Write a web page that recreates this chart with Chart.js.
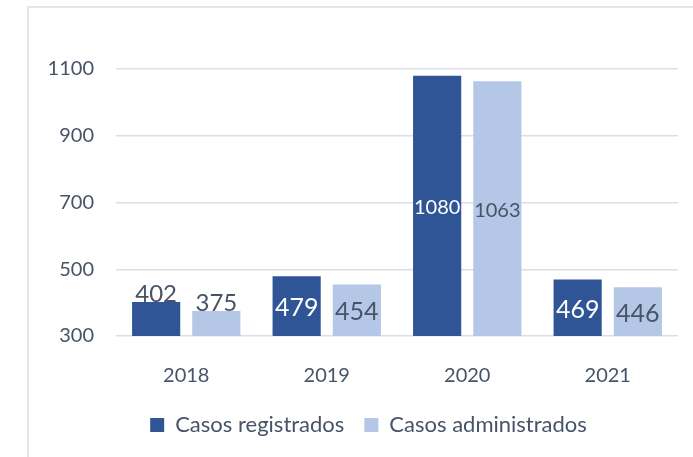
<!DOCTYPE html>
<html>
<head>
<meta charset="utf-8">
<script src="https://cdn.jsdelivr.net/npm/chart.js@4.4.1/dist/chart.umd.min.js"></script>
<style>
  html, body { margin: 0; padding: 0; background: #fff; overflow: hidden; }
  #wrap { position: relative; width: 693px; height: 457px; }
  #frame {
    position: absolute; left: 27px; top: 6px; width: 720px; height: 480px;
    border-left: 2px solid #E3E7ED; border-top: 2px solid #E3E7ED;
    pointer-events: none;
  }
</style>
</head>
<body>
<div id="wrap">
  <canvas id="chart" width="693" height="457"></canvas>
  <div id="frame"></div>
</div>
<script>
// datos del gráfico
const years = ["2018", "2019", "2020", "2021"];
const registrados = [402, 479, 1080, 469];
const administrados = [375, 454, 1063, 446];
const seriesNames = ["Casos registrados", "Casos administrados"];

const textColor = "#475367";

// etiquetas de valor sobre/dentro de las barras
const barLabels = {
    id: "barLabels",
    afterDatasetsDraw(chart) {
        const ctx = chart.ctx;
        const bottom = chart.chartArea.bottom;
        chart.data.datasets.forEach((ds, i) => {
            const meta = chart.getDatasetMeta(i);
            meta.data.forEach((bar, j) => {
                const txt = String(ds.data[j]);
                // la base real queda debajo del eje (min 300), usar la parte visible
                const base = Math.min(bar.base, bottom);
                const h = base - bar.y;
                ctx.save();
                ctx.textAlign = "center";
                if (h < 40) {
                    // barra corta: etiqueta encima
                    ctx.font = "24px Lato";
                    ctx.fillStyle = textColor;
                    ctx.textBaseline = "bottom";
                    ctx.fillText(txt, bar.x, bar.y + 4);
                } else {
                    let size = 25;
                    ctx.font = size + "px Lato";
                    const w = ctx.measureText(txt).width;
                    if (w > bar.width - 1) size = Math.floor(size * (bar.width - 1) / w);
                    ctx.font = size + "px Lato";
                    ctx.fillStyle = ds.labelColor;
                    ctx.textBaseline = "middle";
                    ctx.fillText(txt, bar.x, (bar.y + base) / 2 + 2);
                }
                ctx.restore();
            });
        });
    }
};

new Chart(document.getElementById("chart"), {
    type: "bar",
    data: {
        labels: years,
        datasets: [
            {
                label: seriesNames[0],
                data: registrados,
                backgroundColor: "#2F5597",
                labelColor: "#FFFFFF",
                barPercentage: 0.8,
                categoryPercentage: 0.857
            },
            {
                label: seriesNames[1],
                data: administrados,
                backgroundColor: "#B4C7E7",
                labelColor: textColor,
                barPercentage: 0.8,
                categoryPercentage: 0.857
            }
        ]
    },
    options: {
        responsive: false,
        animation: false,
        layout: { padding: { left: 44, right: 0, top: 69, bottom: 11 } },
        scales: {
            x: {
                grid: { display: false },
                border: { display: false },
                ticks: { color: textColor, font: { family: "Lato", size: 20 }, padding: 20 },
                afterFit: (s) => { s.height = 58; }
            },
            y: {
                min: 300,
                max: 1100,
                grid: { color: "#DADFE7", lineWidth: 1.5, drawTicks: false },
                border: { display: false },
                ticks: {
                    stepSize: 200,
                    color: textColor,
                    font: { family: "Lato", size: 20 },
                    padding: 22,
                    callback: (v) => String(v)
                },
                afterFit: (s) => { s.width = 72; }
            },
            // eje vacío a la derecha, solo deja el margen del área del gráfico
            yRight: {
                position: "right",
                grid: { display: false },
                border: { display: false },
                ticks: { display: false },
                afterFit: (s) => { s.width = 15; }
            }
        },
        plugins: {
            legend: {
                position: "bottom",
                labels: {
                    boxWidth: 14,
                    boxHeight: 14,
                    padding: 20,
                    color: textColor,
                    font: { family: "Lato", size: 22 }
                }
            },
            tooltip: { enabled: false }
        }
    },
    plugins: [barLabels]
});
</script>
</body>
</html>
